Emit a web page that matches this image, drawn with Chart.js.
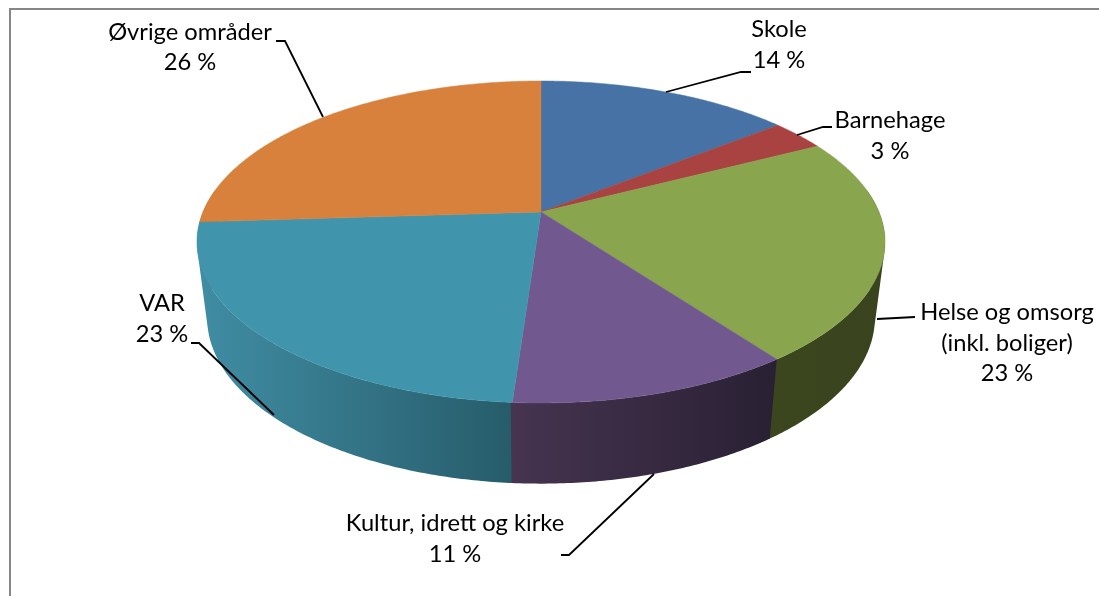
<!DOCTYPE html>
<html>
<head>
<meta charset="utf-8">
<title>Pie</title>
<script src="https://cdn.jsdelivr.net/npm/chart.js@4"></script>
<style>
  html, body { margin: 0; padding: 0; background: #fff; }
  canvas { display: block; }
</style>
</head>
<body>
<canvas id="pieChart" width="1099" height="596"></canvas>
<script>
// data (slice sizes estimated, they round to the printed labels)
const categories = ['Skole', 'Barnehage', 'Helse og omsorg (inkl. boliger)', 'Kultur, idrett og kirke', 'VAR', 'Øvrige områder'];
const values = [14.3, 3.1, 22.5, 11.2, 22.9, 26];

const topColors = ['#4672a5', '#a84341', '#89a54e', '#71588f', '#4095ad', '#d8813c'];
// side wall colours, left to right
const wallColors = [
    ['#2c4768', '#2c4768'],
    ['#6a2a29', '#6a2a29'],
    ['#3b461f', '#39441e'],
    ['#463450', '#292033'],
    ['#408da4', '#275c6a'],
    ['#8a5226', '#8a5226']
];

// text lines and leader lines of each label
const labelLines = [
    { lines: ['Skole', '14 %'], x: 779, y: [37, 68], leader: [[751, 72], [741, 72], [666, 92]] },
    { lines: ['Barnehage', '3 %'], x: 890, y: [128, 159], leader: [[832, 127], [823, 127], [797, 135]] },
    { lines: ['Helse og omsorg', '(inkl. boliger)', '23 %'], x: 1007, y: [320, 351, 381], leader: [[915, 317], [877, 319]] },
    { lines: ['Kultur, idrett og kirke', '11 %'], x: 455, y: [531, 562], leader: [[561, 555], [569, 555], [654, 474]] },
    { lines: ['VAR', '23 %'], x: 162, y: [311, 342], leader: [[191, 343], [199, 343], [274, 415]] },
    { lines: ['Øvrige områder', '26 %'], x: 190, y: [40, 70], leader: [[276, 41], [285, 41], [323, 117]] }
];

// perspective of the top face and of the bottom face of the disc
const topFace = { cx: 541, y0: 212, b: 338, a: 155.4, k: 0.1863 };
const bottomFace = { cx: 541, y0: 287, b: 328, a: 160, k: 0.1863 };

function project(face, angle) {
    const u = Math.cos(angle);
    const v = Math.sin(angle);
    const w = 1 - face.k * v;
    return [face.cx + face.b * u / w, face.y0 + face.a * v / w];
}

function sampleAngles(start, end) {
    const steps = Math.max(2, Math.ceil((end - start) / 0.01));
    const list = [];
    for (let i = 0; i <= steps; i++) {
        list.push(start + (end - start) * i / steps);
    }
    return list;
}

function quadArea(q) {
    let sum = 0;
    q.forEach((p, n) => {
        const next = q[(n + 1) % q.length];
        sum += p[0] * next[1] - next[0] * p[1];
    });
    return sum;
}

const disc3d = {
    id: 'disc3d',
    beforeDatasetDraw(chart) {
        const ctx = chart.ctx;
        const arcs = chart.getDatasetMeta(0).data;

        // walls first, back slices before front slices
        const order = arcs.map((arc, i) => i).sort((p, q) => {
            const mid = i => Math.sin((arcs[i].startAngle + arcs[i].endAngle) / 2);
            return mid(p) - mid(q);
        });
        order.forEach(i => {
            const arc = arcs[i];
            // a small overlap so no white seam shows between two walls
            const front = sampleAngles(arc.startAngle, arc.endAngle + 0.004).filter(a => Math.sin(a) > -0.15);
            if (front.length < 2) return;
            const xs = front.map(a => project(topFace, a)[0]);
            const grad = ctx.createLinearGradient(Math.min(...xs), 0, Math.max(...xs), 0);
            grad.addColorStop(0, wallColors[i][0]);
            grad.addColorStop(1, wallColors[i][1]);
            ctx.fillStyle = grad;
            // all quads in one path with the same winding, the strip folds over at the silhouette
            ctx.beginPath();
            for (let n = 0; n < front.length - 1; n++) {
                const quad = [
                    project(topFace, front[n]),
                    project(topFace, front[n + 1]),
                    project(bottomFace, front[n + 1]),
                    project(bottomFace, front[n])
                ];
                if (quadArea(quad) < 0) quad.reverse();
                quad.forEach((p, m) => {
                    if (m === 0) ctx.moveTo(p[0], p[1]); else ctx.lineTo(p[0], p[1]);
                });
                ctx.closePath();
            }
            ctx.fill('nonzero');
        });

        // then the top face
        arcs.forEach(arc => {
            ctx.beginPath();
            ctx.moveTo(topFace.cx, topFace.y0);
            sampleAngles(arc.startAngle, arc.endAngle).forEach(a => {
                const p = project(topFace, a);
                ctx.lineTo(p[0], p[1]);
            });
            ctx.closePath();
            ctx.fillStyle = arc.options.backgroundColor;
            ctx.strokeStyle = arc.options.backgroundColor;
            ctx.lineWidth = 0.5;
            ctx.fill();
            ctx.stroke();
        });
        return false;
    },
    afterDraw(chart) {
        const ctx = chart.ctx;

        // chart frame
        ctx.strokeStyle = '#868686';
        ctx.lineWidth = 2;
        ctx.beginPath();
        ctx.moveTo(10, 596);
        ctx.lineTo(10, 9);
        ctx.lineTo(1099, 9);
        ctx.stroke();

        ctx.font = '23.7px Lato';
        ctx.textAlign = 'center';
        ctx.textBaseline = 'alphabetic';
        labelLines.forEach(label => {
            ctx.strokeStyle = '#000';
            ctx.lineWidth = 1.8;
            ctx.beginPath();
            label.leader.forEach((p, n) => {
                if (n === 0) ctx.moveTo(p[0], p[1]); else ctx.lineTo(p[0], p[1]);
            });
            ctx.stroke();

            ctx.fillStyle = '#000';
            label.lines.forEach((line, n) => {
                ctx.fillText(line, label.x, label.y[n]);
            });
        });
    }
};

new Chart(document.getElementById('pieChart'), {
    type: 'pie',
    data: {
        labels: categories,
        datasets: [{
            data: values,
            backgroundColor: topColors,
            borderWidth: 0
        }]
    },
    options: {
        responsive: false,
        animation: false,
        plugins: {
            legend: { display: false },
            tooltip: { enabled: false }
        }
    },
    plugins: [disc3d]
});
</script>
</body>
</html>
